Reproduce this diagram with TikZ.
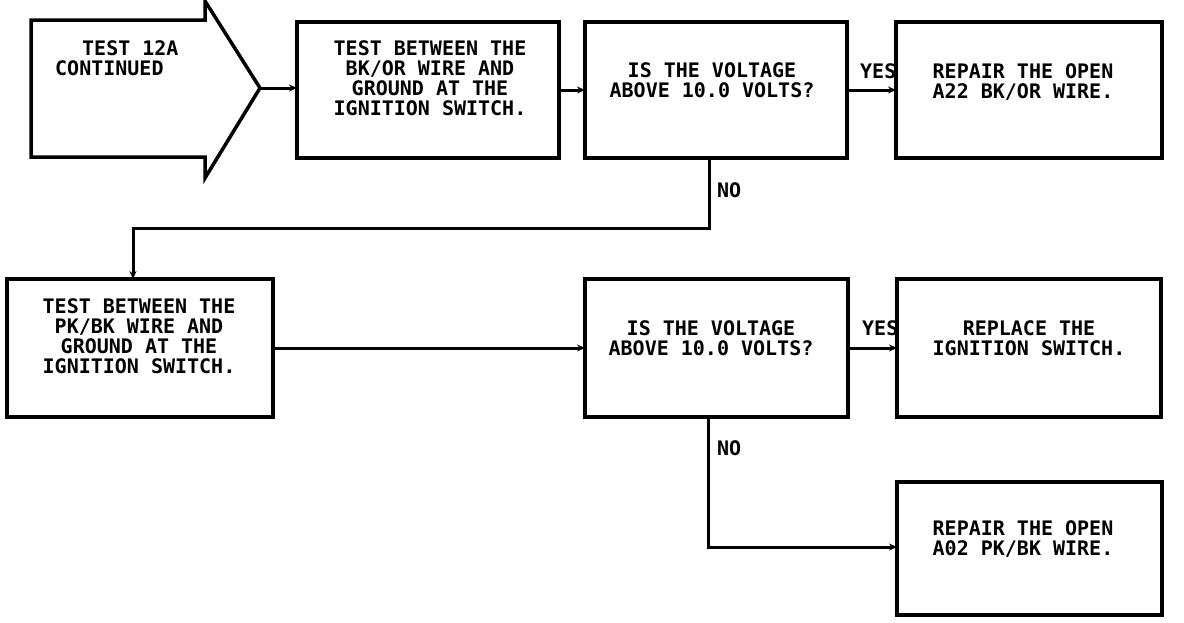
\documentclass[tikz,border=0pt]{standalone}
\usepackage{fontspec}
\setmonofont{DejaVu Sans Mono}
\usetikzlibrary{arrows.meta}
\begin{document}
\begin{tikzpicture}[x=1pt,y=-1pt,
  box/.style={draw, line width=3.5pt, minimum width=264pt, minimum height=136pt, inner sep=0pt, outer sep=0pt},
  txt/.style={font=\fontsize{20}{20}\selectfont\ttfamily\bfseries, align=center, inner sep=0pt, anchor=north},
  lbl/.style={font=\fontsize{20}{20}\selectfont\ttfamily\bfseries, inner sep=0pt, anchor=north west},
  conn/.style={line width=3pt, -{Stealth[length=8pt,width=7pt]}}]
\useasboundingbox (0,0) rectangle (1184,622);
% continuation arrow
\draw[line width=3.5pt, line join=miter] (31,20) -- (205,20) -- (205,1) -- (260,88) -- (205,178) -- (205,157) -- (31,157) -- cycle;
\coordinate (tip) at (260,88);
\node[lbl, align=left] (t0) at (55,40) {\hspace*{27pt}TEST 12A\\CONTINUED};
% boxes
\node[box, minimum width=262pt] (b1) at (428,90) {};
\node[box, minimum width=262pt] (q1) at (716,90) {};
\node[box, minimum width=266pt] (r1) at (1029,90) {};
\node[box, minimum width=266pt, minimum height=138pt] (b2) at (140,348) {};
\node[box, minimum width=263pt, minimum height=138pt] (q2) at (716.5,348) {};
\node[box, minimum width=264pt, minimum height=138pt] (r2) at (1029,348) {};
\node[box, minimum width=265pt, minimum height=133pt] (r3) at (1029.5,548.5) {};
% texts
\node[txt] (t1) at (430,40) {TEST BETWEEN THE\\BK/OR WIRE AND\\GROUND AT THE\\IGNITION SWITCH.};
\node[txt] (t2) at (712,62) {IS THE VOLTAGE\\ABOVE 10.0 VOLTS?};
\node[txt] (t3) at (1023,63) {REPAIR THE OPEN\\A22 BK/OR WIRE.};
\node[txt] (t4) at (139,298) {TEST BETWEEN THE\\PK/BK WIRE AND\\GROUND AT THE\\IGNITION SWITCH.};
\node[txt] (t5) at (711,320) {IS THE VOLTAGE\\ABOVE 10.0 VOLTS?};
\node[txt] (t6) at (1029,320) {REPLACE THE\\IGNITION SWITCH.};
\node[txt] (t7) at (1023,520) {REPAIR THE OPEN\\A02 PK/BK WIRE.};
% labels
\node[lbl] (y1) at (860,63) {YES};
\node[lbl] (y2) at (862,320) {YES};
\node[lbl] (n1) at (717,182) {NO};
\node[lbl] (n2) at (717,440) {NO};
% connectors
\draw[conn] (tip) -- (b1.west |- tip);
\draw[conn] (b1.east) -- (q1.west);
\draw[conn] (q1.east) -- (r1.west);
\coordinate (c1) at (709,228);
\coordinate (c2) at (133,228);
\draw[conn] (q1.south -| c1) -- (c1) -- (c2) -- (b2.north -| c2);
\draw[conn] (b2.east) -- (q2.west);
\draw[conn] (q2.east) -- (r2.west);
\coordinate (c3) at (708,547);
\draw[conn] (q2.south -| c3) -- (c3) -- (r3.west |- c3);
\end{tikzpicture}
\end{document}
